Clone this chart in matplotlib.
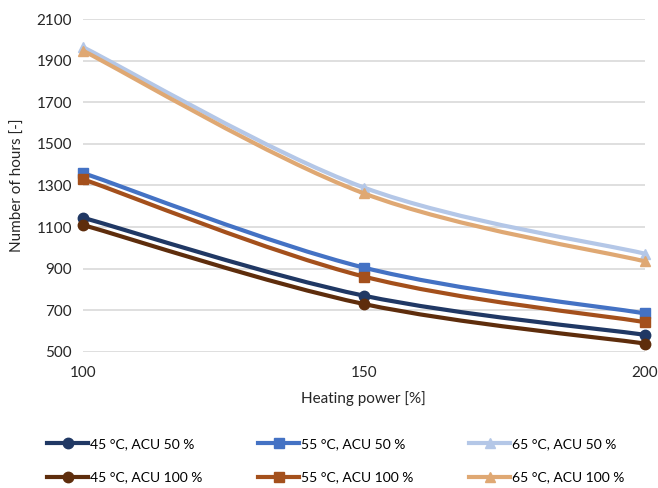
import numpy as np
import matplotlib
matplotlib.use("Agg")
import matplotlib.pyplot as plt
from matplotlib.path import Path
from matplotlib.patches import PathPatch
from matplotlib.lines import Line2D

plt.rcParams['font.family'] = ['Lato', 'DejaVu Sans']

heating_power = [100, 150, 200]
h45_acu50 = [1145, 770, 582]
h55_acu50 = [1360, 905, 685]
h65_acu50 = [1965, 1290, 972]
h45_acu100 = [1110, 730, 540]
h55_acu100 = [1330, 862, 643]
h65_acu100 = [1948, 1262, 935]

labels = ['45 °C, ACU 50 %', '45 °C, ACU 100 %',
          '55 °C, ACU 50 %', '55 °C, ACU 100 %',
          '65 °C, ACU 50 %', '65 °C, ACU 100 %']
series = [h45_acu50, h45_acu100, h55_acu50, h55_acu100, h65_acu50, h65_acu100]
colors = ['#203864', '#5E2D0C', '#4472C4', '#A4501C', '#B4C7E7', '#DFA873']
markers = ['o', 'o', 's', 's', '^', '^']


def smooth_path(x, y):
    # catmull-rom style bezier through the points (like excel smoothed lines)
    pts = np.column_stack([x, y]).astype(float)
    n = len(pts)
    verts = [pts[0]]
    codes = [Path.MOVETO]
    for i in range(n - 1):
        p0 = pts[i - 1] if i > 0 else pts[i]
        p1 = pts[i]
        p2 = pts[i + 1]
        p3 = pts[i + 2] if i + 2 < n else pts[i + 1]
        c1 = p1 + (p2 - p0) / 6.0
        c2 = p2 - (p3 - p1) / 6.0
        verts += [c1, c2, p2]
        codes += [Path.CURVE4] * 3
    return Path(verts, codes)


fig = plt.figure(figsize=(6.58, 4.88), dpi=100)
ax = fig.add_axes([0.126, 0.279, 0.854, 0.682])

# draw the light ones on top like the reference
order = [1, 0, 3, 2, 5, 4]
handles = [None] * 6
for i in order:
    c = colors[i]
    ax.add_patch(PathPatch(smooth_path(heating_power, series[i]), facecolor='none',
                           edgecolor=c, lw=3, capstyle='round', zorder=3 + i * 0.1))
    ax.plot(heating_power, series[i], ls='none', marker=markers[i], ms=7.5,
            color=c, zorder=3 + i * 0.1, clip_on=False)
    handles[i] = Line2D([], [], color=c, lw=3, marker=markers[i], ms=7.5)

ax.set_xlim(100, 200)
ax.set_ylim(500, 2100)
ax.set_xticks(heating_power)
ax.set_yticks(np.arange(500, 2101, 200))
ax.grid(axis='y', color='#D9D9D9', lw=1.2)
ax.set_axisbelow(True)
for s in ax.spines.values():
    s.set_visible(False)
ax.tick_params(length=0, labelsize=11, colors='#262626', pad=8)
ax.tick_params(axis='x', pad=10)

ax.set_xlabel('Heating power [%]', fontsize=11, color='#262626', labelpad=8)
ax.set_ylabel('Number of hours [-]', fontsize=11, color='#262626', labelpad=8)

fig.legend(handles, labels, loc='upper left', bbox_to_anchor=(0.053, 0.128),
           ncol=3, frameon=False, fontsize=10, handlelength=2.95,
           handletextpad=0.15, columnspacing=4.0, labelspacing=1.55)

fig.savefig('out.png', dpi=100)
